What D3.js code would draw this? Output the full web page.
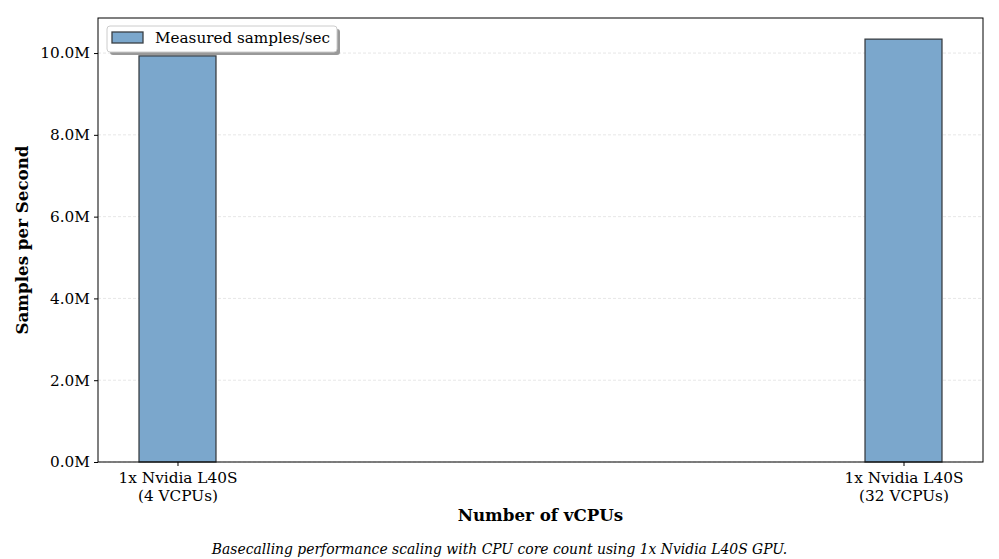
<!DOCTYPE html>
<html>
<head>
<meta charset="utf-8">
<script src="https://cdn.jsdelivr.net/npm/d3@7"></script>
<style>
  body { margin: 0; background: #fff; }
  svg { font-family: "DejaVu Serif", serif; }
  .grid line { stroke: #dcdcdc; stroke-dasharray: 3,2; stroke-width: 0.7; }
  .axis text { font-size: 15.3px; fill: #000; font-family: "DejaVu Serif", serif; }
  .axis line { stroke: #000; }
</style>
</head>
<body>
<svg id="chart"></svg>
<script>
const width = 999
const height = 559

// data
const categories = ['1x Nvidia L40S\n(4 VCPUs)', '1x Nvidia L40S\n(32 VCPUs)']
const samplesPerSec = [9.93e6, 10.34e6]
const yTicks = [0, 2e6, 4e6, 6e6, 8e6, 10e6]
const legendLabel = 'Measured samples/sec'

const margin = { left: 98, right: 16, top: 18, bottom: 97 }
const barWidth = 0.106
const barColor = '#7ba7cc'

const chart = d3.select('#chart')
    .attr('width', width)
    .attr('height', height)

const xScale = d3.scaleLinear()
    .domain([-0.1095, categories.length - 1 + 0.1095])
    .range([margin.left, width - margin.right])
const yScale = d3.scaleLinear()
    .domain([0, d3.max(samplesPerSec) * 1.05])
    .range([height - margin.bottom, margin.top])

// grid lines
chart.append('g').attr('class', 'grid')
    .selectAll('line').data(yTicks).join('line')
    .attr('x1', margin.left).attr('x2', width - margin.right)
    .attr('y1', d => yScale(d)).attr('y2', d => yScale(d))

// bars
chart.append('g')
    .selectAll('rect').data(samplesPerSec).join('rect')
    .attr('x', (d, i) => xScale(i - barWidth / 2))
    .attr('width', (d, i) => xScale(i + barWidth / 2) - xScale(i - barWidth / 2))
    .attr('y', d => yScale(d))
    .attr('height', d => yScale(0) - yScale(d))
    .attr('fill', barColor)
    .attr('stroke', '#3a3f44')
    .attr('stroke-width', 1.3)

// y axis
const yAxis = d3.axisLeft(yScale).tickValues(yTicks)
    .tickFormat(d => (d / 1e6).toFixed(1) + 'M').tickSize(4).tickPadding(4)
chart.append('g').attr('class', 'axis')
    .attr('transform', `translate(${margin.left},0)`)
    .call(yAxis)
    .call(g => g.select('.domain').remove())

// x axis
const xAxis = d3.axisBottom(xScale).tickValues(d3.range(categories.length))
    .tickFormat('').tickSize(4)
const axisX = chart.append('g').attr('class', 'axis')
    .attr('transform', `translate(0,${height - margin.bottom})`)
    .call(xAxis)
axisX.select('.domain').remove()
axisX.selectAll('.tick').each(function (d) {
    const t = d3.select(this).append('text')
        .attr('fill', '#000').attr('text-anchor', 'middle')
    categories[d].split('\n').forEach((s, k) => {
        t.append('tspan').attr('x', 0).attr('y', 21 + k * 17.5).text(s)
    })
})

// frame
chart.append('rect')
    .attr('x', margin.left).attr('y', margin.top)
    .attr('width', width - margin.left - margin.right)
    .attr('height', height - margin.top - margin.bottom)
    .attr('fill', 'none').attr('stroke', '#000').attr('stroke-width', 1)

// axis titles
chart.append('text')
    .attr('x', (margin.left + width - margin.right) / 2).attr('y', 521)
    .attr('text-anchor', 'middle').attr('font-weight', 'bold').attr('font-size', '16.7px')
    .text('Number of vCPUs')
chart.append('text')
    .attr('transform', `translate(28,${(margin.top + height - margin.bottom) / 2}) rotate(-90)`)
    .attr('text-anchor', 'middle').attr('font-weight', 'bold').attr('font-size', '16.7px')
    .text('Samples per Second')

// caption
chart.append('text')
    .attr('x', width / 2).attr('y', 554)
    .attr('text-anchor', 'middle').attr('font-style', 'italic').attr('font-size', '13.9px')
    .text('Basecalling performance scaling with CPU core count using 1x Nvidia L40S GPU.')

// legend
const lg = chart.append('g').attr('transform', 'translate(107,26)')
lg.append('rect').attr('x', 3).attr('y', 3).attr('width', 230).attr('height', 26)
    .attr('rx', 3).attr('fill', '#999')
lg.append('rect').attr('width', 230).attr('height', 26).attr('rx', 3)
    .attr('fill', '#fff').attr('stroke', '#ccc')
lg.append('rect').attr('x', 5).attr('y', 6).attr('width', 31).attr('height', 11)
    .attr('fill', barColor).attr('stroke', '#3a3f44').attr('stroke-width', 1.3)
lg.append('text').attr('x', 48).attr('y', 17).attr('font-size', '15.2px')
    .text(legendLabel)
</script>
</body>
</html>
